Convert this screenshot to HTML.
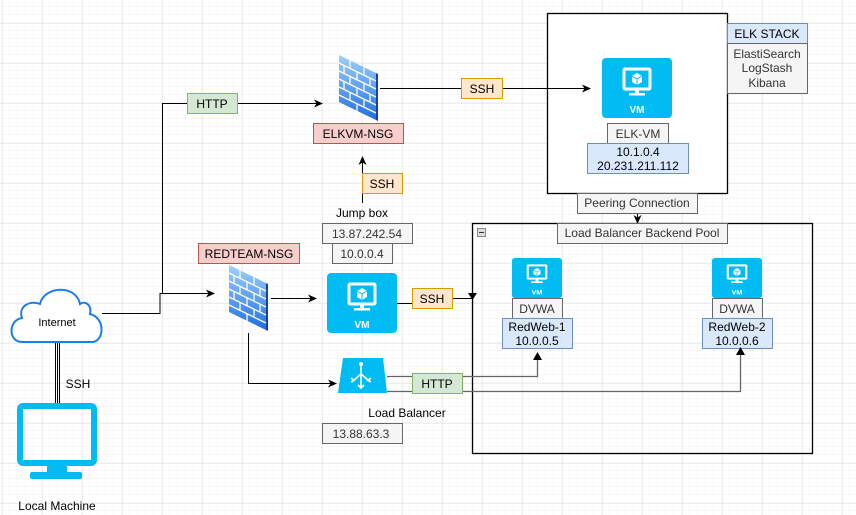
<!DOCTYPE html>
<html><head><meta charset="utf-8">
<style>
html,body{margin:0;padding:0;background:#fff;}
svg{display:block;font-family:"Liberation Sans",Arial,sans-serif;}
</style></head>
<body>
<svg width="856" height="515" viewBox="0 0 856 515" xmlns="http://www.w3.org/2000/svg">
<defs>
<pattern id="minor" x="2" y="7" width="8" height="8" patternUnits="userSpaceOnUse">
<path d="M8 0V8M0 8H8" stroke="#f0f0f0" stroke-width="1" fill="none"/>
</pattern>
<pattern id="major" x="2.5" y="23.5" width="40" height="40" patternUnits="userSpaceOnUse">
<path d="M0 0V40M0 0H40" stroke="#dedede" stroke-width="1" fill="none"/>
</pattern>
<marker id="ar" markerWidth="10" markerHeight="10" refX="8" refY="5" orient="auto" markerUnits="userSpaceOnUse">
<path d="M0 1 L9 5 L0 9 L2.5 5 Z" fill="#000"/>
</marker>
<linearGradient id="fw" x1="0" y1="0" x2="0" y2="1">
<stop offset="0" stop-color="#9fd0ff"/><stop offset="1" stop-color="#1f6fe0"/>
</linearGradient>
<g id="vmi">
<rect x="22" y="11" width="26" height="20" fill="none" stroke="#fff" stroke-width="3" rx="1"/>
<rect x="33" y="31" width="4" height="4" fill="#fff"/>
<rect x="27" y="35" width="16" height="2.5" fill="#fff"/>
<path d="M35 15 L40 18 L40 24 L35 27 L30 24 L30 18 Z" fill="#fff"/>
<path d="M30 18 L35 21 L40 18 M35 21 V27" stroke="#00bcf2" stroke-width="1" fill="none"/>
<text x="35" y="55" font-size="10" font-weight="bold" fill="#fff" text-anchor="middle">VM</text>
</g>
<g id="fwi">
<path d="M1 0 L38 18 L38 65 L1 47 Z" fill="url(#fw)"/>
<path d="M38 18 L40 19 L40 66 L38 65 Z" fill="#1a3f9c"/>
<g stroke="#fff" stroke-width="1.3" fill="none">
<path d="M1 8 L38 26 M1 16 L38 34 M1 24 L38 42 M1 32 L38 50 M1 40 L38 58"/>
<path d="M12 5.5 V13.5 M26 12.5 V20.5 M6 11 V19 M19 17 V25 M32 23 V31 M12 21.5 V29.5 M26 28.5 V36.5 M6 27 V35 M19 33 V41 M32 39 V47 M12 37.5 V45.5 M26 44.5 V52.5 M19 49 V57"/>
</g>
</g>
</defs>
<rect width="856" height="515" fill="#fff"/>
<rect width="856" height="515" fill="url(#minor)"/>
<rect width="856" height="515" fill="url(#major)"/>

<!-- ELK box -->
<rect x="547.5" y="13.5" width="180" height="180" fill="#fff" stroke="#000" stroke-width="1.3"/>
<rect x="727.5" y="23.5" width="80" height="20" fill="#dae8fc" stroke="#6c8ebf"/>
<text x="767" y="38" font-size="12" text-anchor="middle" fill="#000">ELK STACK</text>
<rect x="727.5" y="43.5" width="80" height="50" fill="#f5f5f5" stroke="#666"/>
<text font-size="12" text-anchor="middle" fill="#333"><tspan x="767" y="58">ElastiSearch</tspan><tspan x="767" y="72">LogStash</tspan><tspan x="767" y="87">Kibana</tspan></text>

<rect x="602" y="58" width="70" height="60" rx="4" fill="#00bcf2"/>
<use href="#vmi" x="602" y="58"/>
<rect x="607.5" y="123.5" width="61" height="20" fill="#f5f5f5" stroke="#666"/>
<text x="638" y="138" font-size="12" text-anchor="middle" fill="#333">ELK-VM</text>
<rect x="587.5" y="143.5" width="101" height="30" fill="#dae8fc" stroke="#6c8ebf"/>
<text font-size="12" text-anchor="middle" fill="#000"><tspan x="638" y="156">10.1.0.4</tspan><tspan x="638" y="170">20.231.211.112</tspan></text>

<!-- Peering -->
<line x1="637.5" y1="213" x2="637.5" y2="223" stroke="#000" marker-end="url(#ar)"/>
<rect x="577.5" y="193.5" width="120" height="20" fill="#f5f5f5" stroke="#666"/>
<text x="637" y="207" font-size="12" text-anchor="middle" fill="#333">Peering Connection</text>

<!-- Backend pool -->
<rect x="472.5" y="223.5" width="340" height="230" fill="none" stroke="#000" stroke-width="1.3"/>
<rect x="477.5" y="228.5" width="8" height="8" fill="#ddd" stroke="#888"/>
<line x1="479" y1="232.5" x2="484" y2="232.5" stroke="#333"/>
<rect x="557.5" y="223.5" width="170" height="20" fill="#f5f5f5" stroke="#666"/>
<text x="642" y="237" font-size="12" text-anchor="middle" fill="#333">Load Balancer Backend Pool</text>

<!-- Backend VMs -->
<g transform="translate(512,258) scale(0.7143,0.6667)"><rect width="70" height="60" rx="4" fill="#00bcf2"/><use href="#vmi"/></g>
<rect x="512.5" y="298.5" width="50" height="20" fill="#f5f5f5" stroke="#666"/>
<text x="537" y="313" font-size="12" text-anchor="middle" fill="#333">DVWA</text>
<rect x="502.5" y="318.5" width="70" height="30" fill="#dae8fc" stroke="#6c8ebf"/>
<text font-size="12" text-anchor="middle" fill="#000"><tspan x="537" y="331">RedWeb-1</tspan><tspan x="537" y="345">10.0.0.5</tspan></text>

<g transform="translate(712,258) scale(0.7143,0.6667)"><rect width="70" height="60" rx="4" fill="#00bcf2"/><use href="#vmi"/></g>
<rect x="712.5" y="298.5" width="50" height="20" fill="#f5f5f5" stroke="#666"/>
<text x="737" y="313" font-size="12" text-anchor="middle" fill="#333">DVWA</text>
<rect x="702.5" y="318.5" width="70" height="30" fill="#dae8fc" stroke="#6c8ebf"/>
<text font-size="12" text-anchor="middle" fill="#000"><tspan x="737" y="331">RedWeb-2</tspan><tspan x="737" y="345">10.0.0.6</tspan></text>

<!-- connectors -->
<g fill="none" stroke="#000" stroke-width="1">
<polyline points="102,313.5 160,313.5 160,293.5 214,293.5" marker-end="url(#ar)"/>
<polyline points="162.5,293 162.5,103.5 322,103.5" marker-end="url(#ar)"/>
<line x1="380" y1="88.5" x2="590" y2="88.5" marker-end="url(#ar)"/>
<line x1="362.5" y1="203" x2="362.5" y2="157" marker-end="url(#ar)"/>
<line x1="271" y1="298.5" x2="316" y2="298.5" marker-end="url(#ar)"/>
<line x1="397" y1="303.5" x2="412" y2="303.5"/>
<line x1="452" y1="298.5" x2="472" y2="298.5"/>
<polyline points="248.5,333 248.5,383.5 336,383.5" marker-end="url(#ar)"/>
</g>
<path d="M468 293 L472.5 300 L477 293 Z" fill="#000"/>
<g fill="none" stroke="#666" stroke-width="1.3">
<polyline points="387,376.5 537.5,376.5 537.5,358"/>
<polyline points="387,391.5 740.5,391.5 740.5,353"/>
</g>
<path d="M533 360 L537.5 352 L542 360 Z" fill="#000"/>
<path d="M736 355 L740.5 347 L745 355 Z" fill="#000"/>
<g stroke="#000" stroke-width="1"><line x1="55.5" y1="343" x2="55.5" y2="403"/><line x1="57.5" y1="343" x2="57.5" y2="403"/><line x1="59.5" y1="343" x2="59.5" y2="403"/></g>

<!-- labels on lines -->
<rect x="187.5" y="93.5" width="50" height="20" fill="#d5e8d4" stroke="#82b366"/>
<text x="212" y="108" font-size="12" text-anchor="middle" fill="#000">HTTP</text>
<rect x="461.5" y="78.5" width="41" height="20" fill="#ffe6cc" stroke="#d79b00"/>
<text x="482" y="93" font-size="12" text-anchor="middle" fill="#000">SSH</text>
<rect x="362.5" y="173.5" width="40" height="20" fill="#ffe6cc" stroke="#d79b00"/>
<text x="382" y="188" font-size="12" text-anchor="middle" fill="#000">SSH</text>
<rect x="412.5" y="288.5" width="40" height="20" fill="#ffe6cc" stroke="#d79b00"/>
<text x="432" y="303" font-size="12" text-anchor="middle" fill="#000">SSH</text>
<rect x="412.5" y="373.5" width="50" height="20" fill="#d5e8d4" stroke="#82b366"/>
<text x="437" y="388" font-size="12" text-anchor="middle" fill="#000">HTTP</text>
<text x="78" y="388" font-size="12" text-anchor="middle" fill="#000">SSH</text>

<!-- ELK NSG -->
<use href="#fwi" x="338" y="55"/>
<rect x="313.5" y="123.5" width="90" height="20" fill="#f8cecc" stroke="#b85450"/>
<text x="358" y="138" font-size="12" text-anchor="middle" fill="#000">ELKVM-NSG</text>

<!-- Jump box -->
<text x="362" y="217" font-size="12" text-anchor="middle" fill="#000">Jump box</text>
<rect x="322.5" y="223.5" width="90" height="20" fill="#f5f5f5" stroke="#666"/>
<text x="367" y="238" font-size="12" text-anchor="middle" fill="#333">13.87.242.54</text>
<rect x="332.5" y="243.5" width="60" height="20" fill="#f5f5f5" stroke="#666"/>
<text x="362" y="258" font-size="12" text-anchor="middle" fill="#333">10.0.0.4</text>
<rect x="327" y="273" width="70" height="60" rx="4" fill="#00bcf2"/>
<use href="#vmi" x="327" y="273"/>

<!-- RED NSG -->
<rect x="198.5" y="243.5" width="101" height="20" fill="#f8cecc" stroke="#b85450"/>
<text x="249" y="258" font-size="12" text-anchor="middle" fill="#000">REDTEAM-NSG</text>
<use href="#fwi" x="228" y="265"/>

<!-- Load balancer -->
<path d="M343 358 L383 358 L387 393 L338 393 Z" fill="#00bcf2"/>
<g stroke="#fff" stroke-width="1.6" fill="none">
<line x1="361" y1="365" x2="361" y2="387"/>
<path d="M361 374 L354 380 M361 374 L368 380"/>
<path d="M351 378 L354 380.5 L351 382 M371 378 L368 380.5 L371 382"/>
<path d="M358 385 L361 388 L364 385"/>
</g>
<circle cx="361" cy="364" r="2" fill="#fff"/>
<text x="407" y="417" font-size="12" text-anchor="middle" fill="#000">Load Balancer</text>
<rect x="322.5" y="423.5" width="80" height="20" fill="#f5f5f5" stroke="#666"/>
<text x="361" y="438" font-size="12" text-anchor="middle" fill="#333">13.88.63.3</text>

<!-- Internet cloud -->
<path d="M22 342 C8 342 8 320 22 318 C18 306 30 300 40 304 C44 286 76 284 80 304 C86 300 92 306 90 314 C106 318 104 342 92 342 Z" fill="#fff" stroke="#1b7ee6" stroke-width="2"/>
<text x="57" y="326" font-size="11" text-anchor="middle" fill="#000">Internet</text>

<!-- Local machine -->
<rect x="20" y="406" width="74" height="57" rx="3" fill="none" stroke="#00bcf2" stroke-width="6"/>
<rect x="47" y="466" width="20" height="8" fill="#00bcf2"/>
<rect x="30" y="472" width="52" height="7" rx="2" fill="#00bcf2"/>
<text x="57" y="510" font-size="12" text-anchor="middle" fill="#000">Local Machine</text>
</svg>
</body></html>
